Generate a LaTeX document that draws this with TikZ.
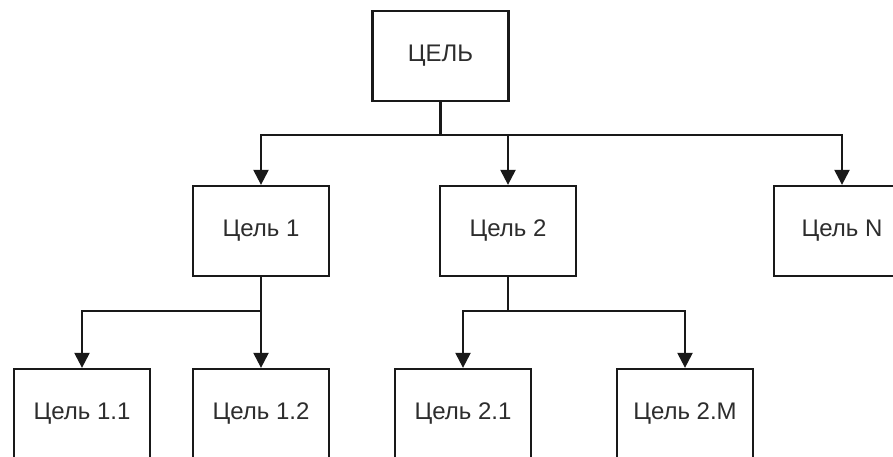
\documentclass[tikz,border=0pt]{standalone}
\usepackage{fontspec}
\setmainfont{Liberation Sans}
\usepackage{xcolor}
\definecolor{goalline}{RGB}{25,25,25}
\definecolor{goaltext}{RGB}{45,45,45}
\usetikzlibrary{arrows.meta}
\tikzset{
  goal box/.style={draw=goalline, line width=2.3pt, fill=white, minimum width=136pt, minimum height=90pt, inner sep=0pt, text=goaltext, font=\fontsize{24}{28}\selectfont},
  goal link/.style={-{Triangle[length=15pt, width=15pt]}, line width=2.3pt, draw=goalline},
  goal line/.style={line width=2.3pt, draw=goalline},
}

\begin{document}
\begin{tikzpicture}[x=1pt, y=-1pt]
  \clip (0,0) rectangle (893,456);
  \node[goal box] (goal) at (440.5,56) {ЦЕЛЬ};
  \node[goal box] (g1) at (261,231) {Цель 1};
  \node[goal box] (g2) at (508,231) {Цель 2};
  \node[goal box] (gn) at (842,231) {Цель N};
  \node[goal box] (g11) at (82,414) {Цель 1.1};
  \node[goal box] (g12) at (261,414) {Цель 1.2};
  \node[goal box] (g21) at (463,414) {Цель 2.1};
  \node[goal box] (g2m) at (685,414) {Цель 2.M};
  % first level
  \draw[goal line] (goal.south) -- ++(0,33) coordinate (j0);
  \draw[goal link] (j0) -| (g1.north); \draw[goal link] (j0) -| (g2.north); \draw[goal link] (j0) -| (gn.north);
  % second level
  \draw[goal line] (g1.south) -- ++(0,34) coordinate (j1);
  \draw[goal link] (j1) -| (g11.north); \draw[goal link] (j1) -- (g12.north);
  \draw[goal line] (g2.south) -- ++(0,34) coordinate (j2);
  \draw[goal link] (j2) -| (g21.north); \draw[goal link] (j2) -| (g2m.north);
\end{tikzpicture}
\end{document}
